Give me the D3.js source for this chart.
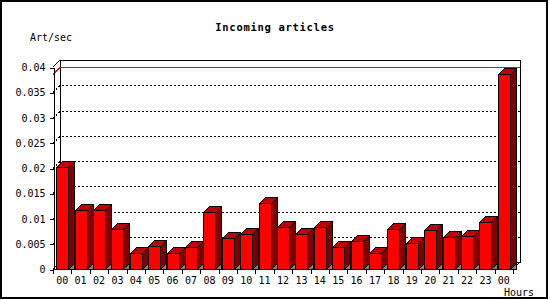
<!DOCTYPE html>
<html lang="en">
<head>
<meta charset="utf-8">
<script src="https://cdn.jsdelivr.net/npm/d3@7"></script>
<style>
  body { margin: 0; background: #fff; }
  text { font-family: "DejaVu Sans Mono", monospace; fill: #000; }
</style>
</head>
<body>
<div id="chart"></div>
<script>
// hourly incoming articles, art/sec
var hours = ["00","01","02","03","04","05","06","07","08","09","10","11",
             "12","13","14","15","16","17","18","19","20","21","22","23","00"];
var artPerSec = [0.0201, 0.0116, 0.0116, 0.0079, 0.0031, 0.0045, 0.0031, 0.0043,
                 0.0112, 0.0061, 0.0069, 0.0130, 0.0083, 0.0069, 0.0083, 0.0043,
                 0.0055, 0.0031, 0.0079, 0.0051, 0.0077, 0.0063, 0.0065, 0.0093,
                 0.0386];
var yTicks = [0, 0.005, 0.01, 0.015, 0.02, 0.025, 0.03, 0.035, 0.04];

var W = 550, H = 300;
var depth = 7, barDepth = 6, barW = 12;
var pLeft = 53, pRight = 513, pTop = 67, pBottom = 269;

var svg = d3.select("#chart").append("svg")
    .attr("width", W).attr("height", H);

// outer frame
svg.append("rect")
    .attr("x", 1).attr("y", 1).attr("width", 546).attr("height", 297)
    .attr("fill", "#fff").attr("stroke", "#000").attr("stroke-width", 2);

var x = d3.scaleBand().domain(d3.range(hours.length)).range([pLeft, pRight]).padding(0);
var y = d3.scaleLinear().domain([0, 0.04]).range([pBottom, pTop]);

var g = svg.append("g").attr("shape-rendering", "crispEdges");

// back wall
g.append("rect")
    .attr("x", pLeft + depth + 0.5).attr("y", pTop - depth + 0.5)
    .attr("width", pRight - pLeft).attr("height", pBottom - pTop)
    .attr("fill", "#fff").attr("stroke", "#000");

// side edges of the box
g.append("path")
    .attr("d", "M" + pLeft + "," + pBottom + "L" + (pLeft + depth) + "," + (pBottom - depth) +
               "M" + pRight + "," + pBottom + "L" + (pRight + depth) + "," + (pBottom - depth) +
               "M" + pLeft + "," + pTop + "L" + (pLeft + depth) + "," + (pTop - depth))
    .attr("stroke", "#000").attr("fill", "none");

// dotted grid on back wall
g.selectAll(".grid")
    .data(yTicks.filter(function (d) { return d > 0 && d < 0.04; }))
    .enter().append("path")
    .attr("class", "grid")
    .attr("d", function (d) {
        var yb = Math.round(y(d)) - depth + 0.5;
        return "M" + pLeft + "," + (Math.round(y(d)) + 0.5) + "L" + (pLeft + depth) + "," + yb +
               "L" + (pRight + depth) + "," + yb;
    })
    .attr("stroke", "#000").attr("fill", "none").attr("stroke-dasharray", "2,2");

// max line
var maxV = d3.max(artPerSec);
var ym = Math.round(y(maxV));
g.append("path")
    .attr("d", "M" + pLeft + "," + (ym + 0.5) + "L" + (pLeft + depth) + "," + (ym - depth + 0.5) +
               "L" + (pRight + depth) + "," + (ym - depth + 0.5))
    .attr("stroke", "#f00").attr("fill", "none");

// bars
var bars = g.selectAll(".bar")
    .data(artPerSec)
    .enter().append("g")
    .attr("class", "bar");

function bx(i) { return Math.round(x(i) + (x.bandwidth() - barW) / 2) + 0.5; }

bars.append("path") // shadow on floor
    .attr("d", function (d, i) {
        var x1 = bx(i) + barW;
        return "M" + x1 + "," + (pBottom + 0.5) + "L" + (x1 + barDepth) + "," + (pBottom - barDepth + 0.5) +
               "L" + (x1 + barDepth) + "," + (pBottom + 0.5) + "Z";
    })
    .attr("fill", "#808080").attr("stroke", "#000");

bars.append("path") // side
    .attr("d", function (d, i) {
        var x1 = bx(i) + barW, yt = Math.round(y(d)) + 0.5;
        return "M" + x1 + "," + yt + "L" + (x1 + barDepth) + "," + (yt - barDepth) +
               "L" + (x1 + barDepth) + "," + (pBottom - barDepth + 0.5) +
               "L" + x1 + "," + (pBottom + 0.5) + "Z";
    })
    .attr("fill", "#800000").attr("stroke", "#000");

bars.append("path") // top
    .attr("d", function (d, i) {
        var x0 = bx(i), yt = Math.round(y(d)) + 0.5;
        return "M" + x0 + "," + yt + "L" + (x0 + barDepth) + "," + (yt - barDepth) +
               "L" + (x0 + barW + barDepth) + "," + (yt - barDepth) +
               "L" + (x0 + barW) + "," + yt + "Z";
    })
    .attr("fill", "#c00000").attr("stroke", "#000");

bars.append("rect") // front
    .attr("x", function (d, i) { return bx(i); })
    .attr("y", function (d) { return Math.round(y(d)) + 0.5; })
    .attr("width", barW)
    .attr("height", function (d) { return pBottom - Math.round(y(d)); })
    .attr("fill", "#f00").attr("stroke", "#000");

// front bottom line
g.append("line")
    .attr("x1", pLeft).attr("x2", pRight)
    .attr("y1", pBottom + 0.5).attr("y2", pBottom + 0.5)
    .attr("stroke", "#000");

// y axis
var yAxis = svg.append("g")
    .attr("transform", "translate(" + (pLeft + 0.5) + ",0.5)")
    .call(d3.axisLeft(y).tickValues(yTicks).tickSize(4).tickSizeOuter(0).tickPadding(4)
        .tickFormat(function (d) { return String(+d.toFixed(3)); }));
yAxis.attr("font-family", null).attr("font-size", null);
yAxis.selectAll("text").style("font-size", "10px");
yAxis.selectAll("path,line").attr("shape-rendering", "crispEdges");

// x axis: labels centred in slots, ticks at slot edges
var xAxis = svg.append("g")
    .attr("transform", "translate(0," + (pBottom + 0.5) + ")")
    .call(d3.axisBottom(x).tickSize(0).tickPadding(7)
        .tickFormat(function (i) { return hours[i]; }));
xAxis.attr("font-family", null).attr("font-size", null);
xAxis.select(".domain").remove();
xAxis.selectAll("text").style("font-size", "10px");

g.selectAll(".xtick")
    .data(d3.range(hours.length + 1))
    .enter().append("line")
    .attr("class", "xtick")
    .attr("x1", function (i) { return Math.round(pLeft + i * x.step()) + 0.5; })
    .attr("x2", function (i) { return Math.round(pLeft + i * x.step()) + 0.5; })
    .attr("y1", pBottom).attr("y2", pBottom + 5)
    .attr("stroke", "#000");

// titles
svg.append("text")
    .attr("x", 275).attr("y", 31)
    .attr("text-anchor", "middle")
    .style("font-size", "10.5px").style("font-weight", "bold")
    .style("letter-spacing", "0.7px")
    .text("Incoming articles");

svg.append("text")
    .attr("x", 30).attr("y", 40.5)
    .style("font-size", "10px")
    .text("Art/sec");

svg.append("text")
    .attr("x", 504).attr("y", 296)
    .style("font-size", "10px")
    .text("Hours");
</script>
</body>
</html>
